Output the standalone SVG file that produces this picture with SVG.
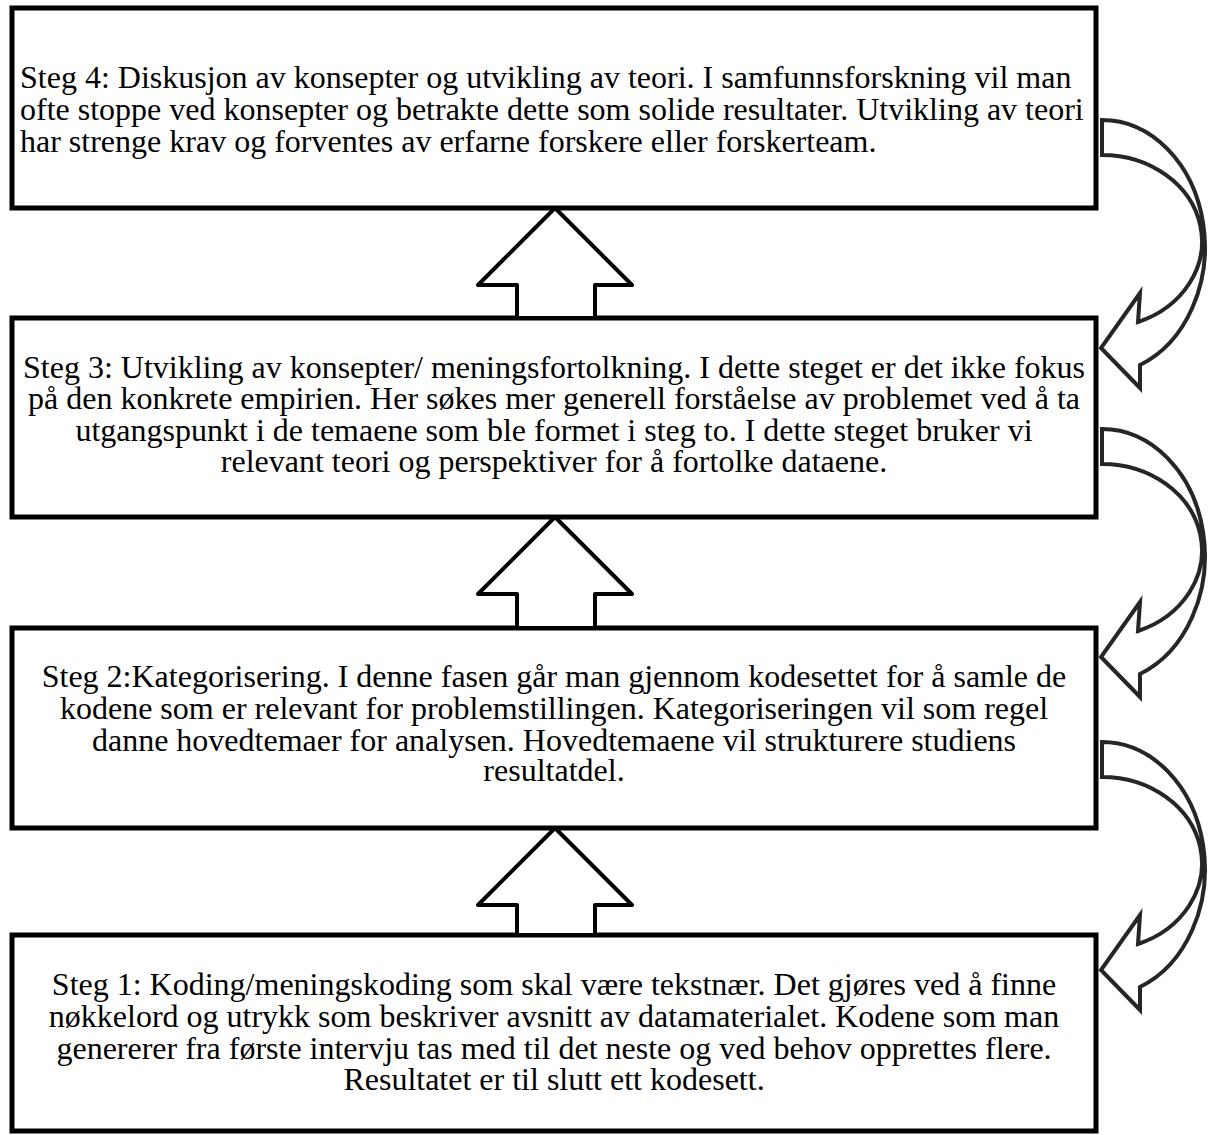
<svg xmlns="http://www.w3.org/2000/svg" xmlns:xlink="http://www.w3.org/1999/xlink" width="1208" height="1135" viewBox="0 0 1208 1135">
  <style>
    .box { fill: #fff; stroke: #000; stroke-width: 5; }
    .up { fill: #fff; stroke: #000; stroke-width: 4; stroke-linejoin: round; }
    .curve { fill: none; stroke: #262626; stroke-width: 4; stroke-linejoin: miter; }
    .t { font-family: "Liberation Serif", "Times New Roman", serif; font-size: 32px; fill: #000; }
    .c { text-anchor: middle; }
  </style>
  <defs>
    <!-- curved return arrow leaving a box's right edge and pointing back into the next box down -->
    <path id="loop" class="curve"
      d="M1102,120 A103,127 0 0 1 1140,365 L1140,388 L1101,348 L1140,293 L1138,322 A100,86.4 0 0 0 1102,155 Z"/>
  </defs>

  <rect width="1208" height="1135" fill="#fff"/>

  <g id="box4">
    <rect class="box" x="12" y="8" width="1084" height="200"/>
    <text class="t" x="20" y="88">Steg 4: Diskusjon av konsepter og utvikling av teori. I samfunnsforskning vil man</text>
    <text class="t" x="20" y="120">ofte stoppe ved konsepter og betrakte dette som solide resultater. Utvikling av teori</text>
    <text class="t" x="20" y="152">har strenge krav og forventes av erfarne forskere eller forskerteam.</text>
  </g>

  <g id="box3">
    <rect class="box" x="12" y="318" width="1084" height="199"/>
    <text class="t c" x="554" y="378">Steg 3: Utvikling av konsepter/ meningsfortolkning. I dette steget er det ikke fokus</text>
    <text class="t c" x="554" y="409">på den konkrete empirien. Her søkes mer generell forståelse av problemet ved å ta</text>
    <text class="t c" x="554" y="441">utgangspunkt i de temaene som ble formet i steg to. I dette steget bruker vi</text>
    <text class="t c" x="554" y="472">relevant teori og perspektiver for å fortolke dataene.</text>
  </g>

  <g id="box2">
    <rect class="box" x="12" y="628" width="1084" height="200"/>
    <text class="t c" x="554" y="687">Steg 2:Kategorisering. I denne fasen går man gjennom kodesettet for å samle de</text>
    <text class="t c" x="554" y="719">kodene som er relevant for problemstillingen. Kategoriseringen vil som regel</text>
    <text class="t c" x="554" y="751">danne hovedtemaer for analysen. Hovedtemaene vil strukturere studiens</text>
    <text class="t c" x="554" y="781">resultatdel.</text>
  </g>

  <g id="box1">
    <rect class="box" x="12" y="935" width="1084" height="196"/>
    <text class="t c" x="554" y="995">Steg 1: Koding/meningskoding som skal være tekstnær. Det gjøres ved å finne</text>
    <text class="t c" x="554" y="1027">nøkkelord og utrykk som beskriver avsnitt av datamaterialet. Kodene som man</text>
    <text class="t c" x="554" y="1059">genererer fra første intervju tas med til det neste og ved behov opprettes flere.</text>
    <text class="t c" x="554" y="1090">Resultatet er til slutt ett kodesett.</text>
  </g>

  <g id="connectors">
    <!-- block arrows pointing up from each step to the next -->
    <path class="up" d="M555,208 L632,285 L595,285 L595,318 L517,318 L517,285 L478,285 Z"/>
    <path class="up" d="M555,517 L632,594 L595,594 L595,628 L517,628 L517,594 L478,594 Z"/>
    <path class="up" d="M555,828 L632,905 L595,905 L595,935 L517,935 L517,905 L478,905 Z"/>
    <!-- curved arrows on the right side, top to bottom -->
    <use xlink:href="#loop"/>
    <use xlink:href="#loop" transform="translate(0,309)"/>
    <use xlink:href="#loop" transform="translate(0,622)"/>
  </g>
</svg>
